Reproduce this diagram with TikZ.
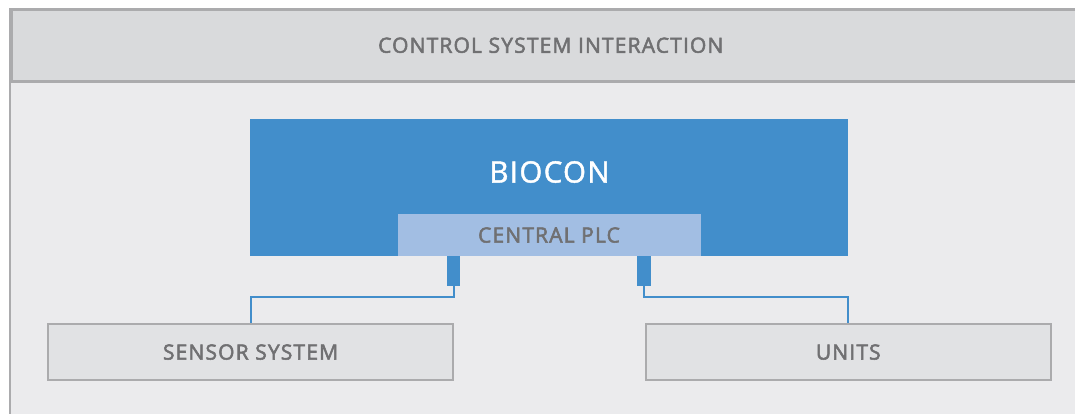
\documentclass[tikz,border=0pt]{standalone}
\usepackage{fontspec}
\newfontfamily\lblfont[LetterSpace=5.5,FakeBold=2.5]{Open Sans}
\newfontfamily\bigfont[LetterSpace=4.5,FakeBold=1.5]{Open Sans}
\definecolor{blu}{HTML}{428ECB}
\definecolor{plc}{HTML}{A2BEE3}
\definecolor{hdrfill}{HTML}{D9DADC}
\definecolor{bodyfill}{HTML}{EBEBED}
\definecolor{boxfill}{HTML}{E1E2E4}
\definecolor{brd}{HTML}{ABABAD}
\definecolor{txt}{HTML}{707072}
\tikzset{
  graybox/.style={draw=brd, line width=2.5pt, fill=boxfill, inner sep=0pt, text=txt, font=\lblfont\fontsize{21}{24}\selectfont},
  stubbox/.style={fill=blu, inner sep=0pt, minimum width=13.5pt, minimum height=30pt},
  wire/.style={draw=blu, line width=2pt},
}
\begin{document}
\begin{tikzpicture}[x=1pt,y=-1pt]
\useasboundingbox (0,0) rectangle (1075,413);
\clip (0,0) rectangle (1075,413);
\fill[white] (0,0) rectangle (1075,413);
% outer frame
\fill[bodyfill] (10,8) rectangle (1100,430);
\node[graybox, fill=hdrfill, minimum width=1079pt, minimum height=72pt, anchor=north west] (header) at (10,8) {CONTROL SYSTEM INTERACTION};
\draw[brd, line width=2.5pt] (10,430) -- (10,8);
% BIOCON
\node[fill=blu, inner sep=0pt, minimum width=598pt, minimum height=137pt, anchor=north west] (biocon) at (250,119) {};
\node[text=white, font=\bigfont\fontsize{29.5}{32}\selectfont, inner sep=0pt] (bioconlbl) at (549.5,172) {BIOCON};
\node[fill=plc, inner sep=0pt, minimum width=303pt, minimum height=41.5pt, anchor=south, text=txt, font=\lblfont\fontsize{21}{24}\selectfont] (centralplc) at (549,256) {CENTRAL PLC};
% stubs
\node[stubbox, anchor=north] (stubL) at (453.5,256) {};
\node[stubbox, anchor=north] (stubR) at (644,256) {};
% boxes
\node[graybox, minimum width=405pt, minimum height=56pt, anchor=north west] (sensor) at (46.8,322.8) {SENSOR SYSTEM};
\node[graybox, minimum width=405pt, minimum height=56pt, anchor=north west] (units) at (644.5,322.8) {UNITS};
% wires
\draw[wire] (stubL.south) -- ++(0,10.5) -| (sensor.north);
\draw[wire] (stubR.south) -- ++(0,10.5) -| (units.north);
\end{tikzpicture}
\end{document}
